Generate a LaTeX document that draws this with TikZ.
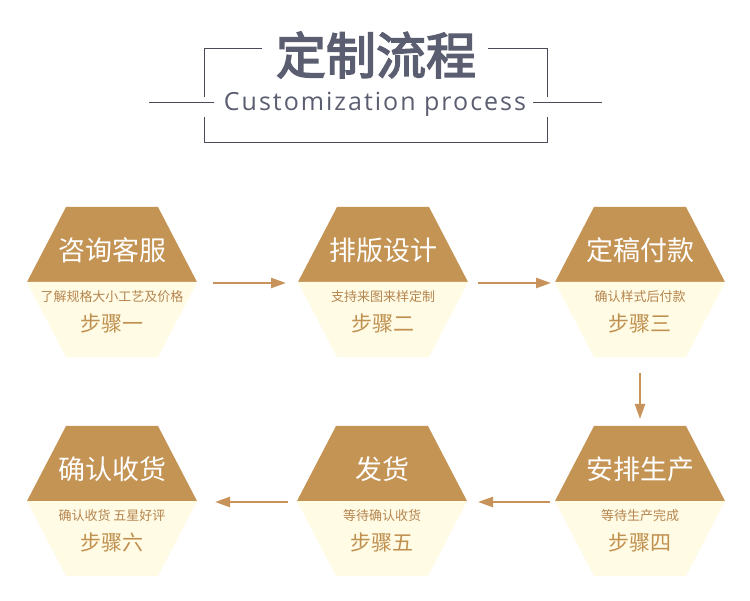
\documentclass[tikz,border=0pt]{standalone}
\usepackage{fontspec}
\setmainfont{Open Sans}
\newfontfamily\cjk{Noto Sans CJK SC}
\newfontfamily\cjkbold{Noto Sans CJK SC}[FakeBold=3]
\newfontfamily\spacedsans{Open Sans}[LetterSpace=8]
\usetikzlibrary{arrows.meta}
\definecolor{hexbrown}{HTML}{C49455}
\definecolor{hexcream}{HTML}{FFFBE4}
\definecolor{subbrown}{HTML}{B5854F}
\definecolor{stepbrown}{HTML}{C09050}
\definecolor{arrowbrown}{HTML}{C8935A}
\definecolor{titlegrey}{HTML}{5B5E70}
\tikzset{
  hexframe/.style={minimum width=170pt,minimum height=150pt,inner sep=0pt,outer sep=0pt},
  hextitle/.style={font=\cjk\fontsize{27}{30}\selectfont,text=white,inner sep=0pt},
  hexsub/.style={font=\cjk\fontsize{13}{15}\selectfont,text=subbrown,inner sep=0pt},
  hexstepl/.style={font=\cjk\fontsize{21}{23}\selectfont,text=stepbrown,inner sep=0pt},
  flowarrow/.style={draw=arrowbrown,line width=2.4pt,-{Triangle[length=15pt,width=10pt]}},
  frameline/.style={draw=titlegrey!80!black,line width=1pt},
}
\newcommand\hexstep[5]{%
  \node[hexframe] (#1) at (#2) {};
  \fill[hexbrown] (#1.west) -- ([xshift=39pt]#1.north west) -- ([xshift=-39pt]#1.north east) -- (#1.east) -- cycle;
  \fill[hexcream] (#1.west) -- ([xshift=39pt]#1.south west) -- ([xshift=-39pt]#1.south east) -- (#1.east) -- cycle;
  \node[hextitle] (#1t) at ([yshift=32pt]#1.center) {#3};
  \node[hexsub] (#1s) at ([yshift=-15pt]#1.center) {#4};
  \node[hexstepl] (#1n) at ([yshift=-41pt]#1.center) {#5};
}
\begin{document}
\begin{tikzpicture}[x=1pt,y=-1pt]
\useasboundingbox[fill=white] (0,0) rectangle (750,601);
% title
\node[font=\cjkbold\fontsize{50}{54}\selectfont,text=titlegrey,inner sep=0pt] (title) at (376,55) {定制流程};
\node[font=\spacedsans\fontsize{25}{28}\selectfont,text=titlegrey,inner sep=0pt] (subtitle) at (375,104) {Customization process};
% frame
\draw[frameline] (262,49) -- (204,49) -- (204,97);
\draw[frameline] (488,49) -- (547,49) -- (547,97);
\draw[frameline] (204,117) -- (204,143) -- (547,143) -- (547,117);
\draw[frameline] (149,103) -- (214,103);
\draw[frameline] (533,103) -- (602,103);
% steps
\hexstep{h1}{112,282}{咨询客服}{了解规格大小工艺及价格}{步骤一}
\hexstep{h2}{383,282}{排版设计}{支持来图来样定制}{步骤二}
\hexstep{h3}{640,282}{定稿付款}{确认样式后付款}{步骤三}
\hexstep{h4}{640,501}{安排生产}{等待生产完成}{步骤四}
\hexstep{h5}{382,501}{发货}{等待确认收货}{步骤五}
\hexstep{h6}{112,501}{确认收货}{确认收货 五星好评}{步骤六}
% arrows
\draw[flowarrow] ([xshift=16pt,yshift=-1pt]h1.east) -- ([xshift=-12pt,yshift=-1pt]h2.west);
\draw[flowarrow] ([xshift=10pt,yshift=-1pt]h2.east) -- ([xshift=-4pt,yshift=-1pt]h3.west);
\draw[flowarrow] ([yshift=-16pt]h3.south) -- ([yshift=7pt]h4.north);
\draw[flowarrow] ([xshift=-5pt,yshift=-1pt]h4.west) -- ([xshift=11pt,yshift=-1pt]h5.east);
\draw[flowarrow] ([xshift=-9pt,yshift=-1pt]h5.west) -- ([xshift=18pt,yshift=-1pt]h6.east);
\end{tikzpicture}
\end{document}
